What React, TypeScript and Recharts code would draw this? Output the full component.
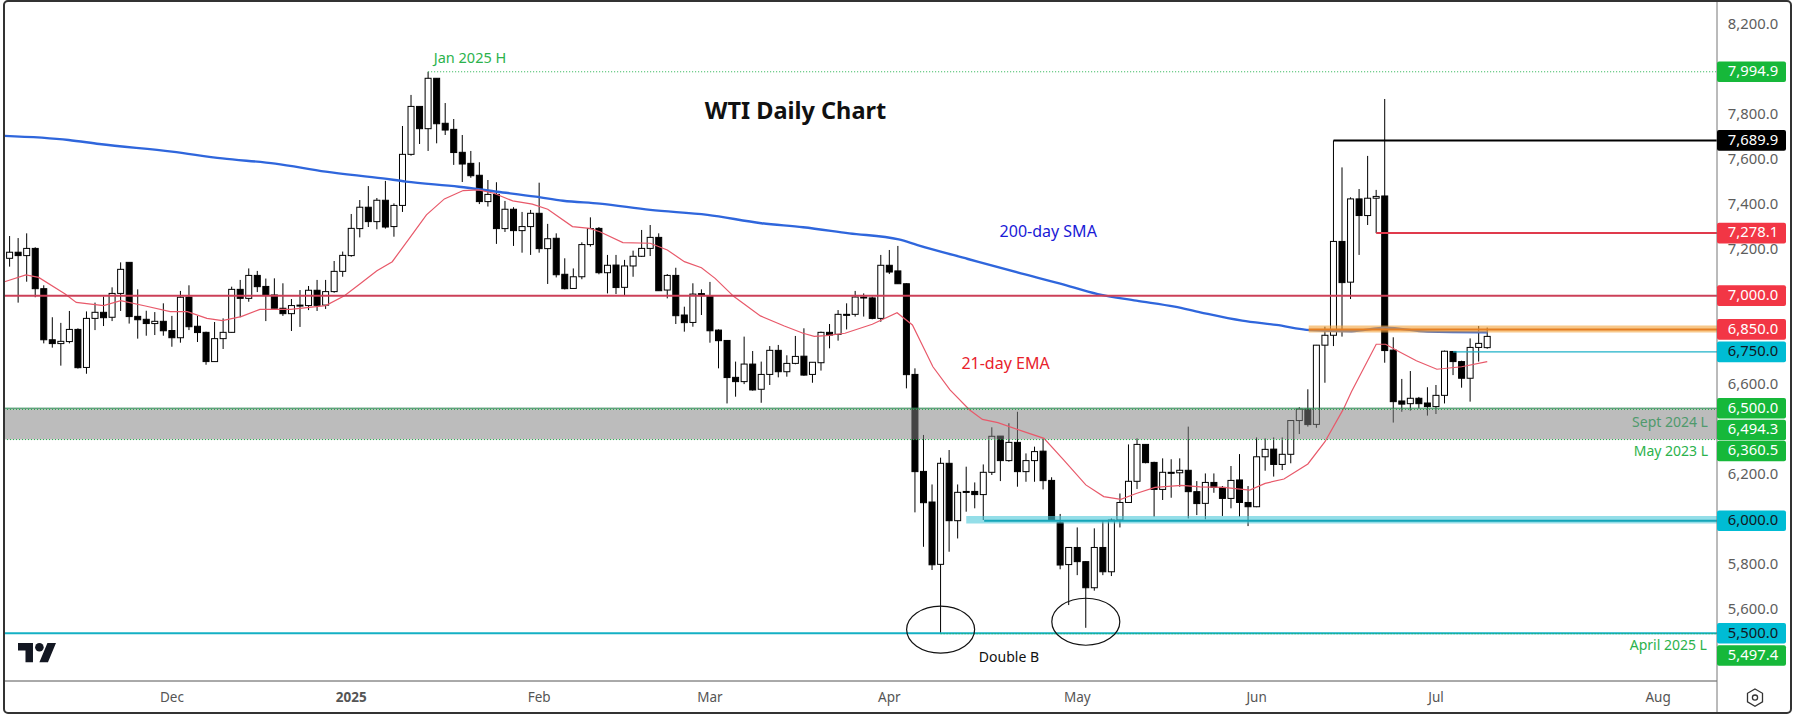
import {
  Bar,
  ComposedChart,
  Line,
  ReferenceArea,
  ReferenceDot,
  ReferenceLine,
  XAxis,
  YAxis,
} from "recharts";

// daily candles, bar 0 is late Oct 2024
const opens = [
  7166, 7193, 7178, 7210, 7031, 6804, 6787, 6796, 6850, 6681,
  6899, 6926, 6904, 7010, 7148, 6908, 6895, 6876, 6886, 6845,
  6813, 6994, 6864, 6837, 6707, 6809, 6837, 7028, 6988, 7090,
  7041, 7003, 6944, 6920, 6956, 6956, 7024, 6958, 7018, 7108,
  7178, 7298, 7393, 7329, 7424, 7307, 7401, 7628, 7841, 7742,
  7966, 7766, 7739, 7637, 7588, 7535, 7418, 7450, 7298, 7384,
  7289, 7307, 7366, 7209, 7255, 7095, 7032, 7084, 7227, 7299,
  7102, 7136, 7037, 7132, 7175, 7210, 7259, 7025, 7090, 6914,
  6881, 7009, 6999, 6847, 6801, 6637, 6618, 6696, 6584, 6650,
  6757, 6662, 6699, 6731, 6650, 6702, 6837, 6828, 6917, 6917,
  6994, 6990, 6899, 7135, 7110, 7053, 6650, 6219, 6083, 5806,
  6255, 6000, 6130, 6130, 6116, 6215, 6376, 6267, 6348, 6218,
  6267, 6309, 6179, 5991, 5805, 5881, 5818, 5702, 5881, 5773,
  6003, 6081, 6175, 6339, 6259, 6139, 6215, 6213, 6224, 6129,
  6077, 6170, 6148, 6099, 6181, 6081, 6062, 6284, 6318, 6250,
  6295, 6445, 6496, 6428, 6780, 6824, 7241, 7060, 7430, 7356,
  7433, 7443, 6758, 6532, 6520, 6544, 6523, 6507, 6557, 6752,
  6707, 6633, 6770, 6769,
];
const highs = [
  7265, 7256, 7277, 7215, 7046, 6904, 6879, 6932, 6855, 6930,
  6969, 6996, 7037, 7148, 7148, 7028, 6933, 6927, 6966, 6910,
  7021, 7046, 6910, 6840, 6883, 6899, 7040, 7070, 7121, 7110,
  7076, 7077, 7055, 6985, 7025, 7043, 7070, 7070, 7154, 7196,
  7363, 7425, 7487, 7434, 7510, 7410, 7754, 7892, 7841, 7995,
  7966, 7856, 7785, 7714, 7643, 7593, 7514, 7504, 7421, 7393,
  7372, 7381, 7502, 7319, 7277, 7166, 7121, 7237, 7348, 7305,
  7181, 7181, 7159, 7200, 7292, 7314, 7277, 7096, 7124, 6951,
  7055, 7028, 7061, 6850, 6802, 6707, 6818, 6754, 6707, 6776,
  6781, 6735, 6821, 6855, 6704, 6840, 6874, 6936, 6966, 7021,
  7010, 6996, 7181, 7203, 7221, 7055, 6677, 6381, 6161, 6280,
  6314, 6161, 6240, 6170, 6250, 6415, 6376, 6433, 6484, 6299,
  6329, 6366, 6193, 6030, 5881, 5970, 5820, 5966, 6003, 6010,
  6121, 6339, 6366, 6339, 6262, 6277, 6273, 6277, 6418, 6176,
  6210, 6210, 6154, 6243, 6296, 6154, 6370, 6366, 6370, 6370,
  6447, 6504, 6584, 6781, 6862, 7690, 7570, 7437, 7474, 7621,
  7470, 7874, 6815, 6630, 6665, 6550, 6593, 6603, 6756, 6752,
  6711, 6810, 6865, 6858,
];
const lows = [
  7129, 6969, 7062, 6993, 6788, 6769, 6689, 6788, 6676, 6653,
  6847, 6865, 6887, 6932, 6876, 6809, 6822, 6825, 6822, 6773,
  6791, 6847, 6794, 6693, 6707, 6763, 6836, 6904, 6973, 7016,
  6887, 6944, 6910, 6843, 6861, 6936, 6932, 6941, 7013, 7084,
  7173, 7259, 7305, 7295, 7298, 7262, 7372, 7622, 7674, 7643,
  7677, 7714, 7581, 7505, 7524, 7407, 7396, 7230, 7283, 7221,
  7191, 7181, 7191, 7052, 7081, 7028, 7030, 7073, 7218, 7095,
  7010, 7007, 7003, 7084, 7172, 7176, 7022, 6988, 6874, 6840,
  6862, 6914, 6791, 6677, 6521, 6551, 6607, 6578, 6524, 6603,
  6637, 6640, 6695, 6644, 6613, 6667, 6766, 6800, 6850, 6907,
  6907, 6895, 6884, 7096, 7052, 6588, 6037, 5884, 5781, 5497,
  5862, 5921, 6040, 6055, 6003, 6203, 6176, 6262, 6151, 6173,
  6173, 6139, 6003, 5784, 5625, 5758, 5524, 5689, 5758, 5754,
  5970, 6080, 6141, 6255, 6018, 6092, 6102, 6151, 6010, 6025,
  6006, 6124, 6021, 6055, 6018, 5976, 6060, 6222, 6196, 6225,
  6255, 6385, 6418, 6413, 6613, 6776, 6818, 6985, 7181, 7314,
  7278, 6702, 6436, 6484, 6489, 6499, 6467, 6474, 6521, 6647,
  6591, 6529, 6707, 6764,
];
const closes = [
  7193, 7178, 7210, 7031, 6804, 6787, 6797, 6850, 6680, 6899,
  6926, 6902, 7010, 7117, 6907, 6893, 6876, 6886, 6844, 6813,
  6993, 6862, 6836, 6707, 6809, 6837, 7028, 6988, 7090, 7040,
  7003, 6944, 6920, 6956, 6958, 7024, 6957, 7018, 7108, 7179,
  7299, 7393, 7329, 7424, 7305, 7401, 7628, 7841, 7742, 7966,
  7764, 7736, 7636, 7585, 7533, 7418, 7450, 7298, 7384, 7289,
  7307, 7366, 7209, 7253, 7093, 7031, 7084, 7227, 7298, 7102,
  7135, 7036, 7132, 7175, 7210, 7259, 7022, 7090, 6911, 6880,
  7007, 7000, 6844, 6800, 6636, 6618, 6696, 6581, 6650, 6757,
  6662, 6699, 6730, 6647, 6704, 6837, 6825, 6917, 6916, 6994,
  6992, 6899, 7135, 7105, 7053, 6649, 6218, 6080, 5804, 6255,
  6000, 6126, 6126, 6116, 6215, 6375, 6267, 6348, 6218, 6267,
  6307, 6178, 6003, 5803, 5881, 5818, 5702, 5881, 5773, 6003,
  6081, 6175, 6339, 6258, 6139, 6215, 6213, 6224, 6129, 6076,
  6170, 6148, 6099, 6179, 6081, 6062, 6284, 6317, 6250, 6295,
  6445, 6496, 6427, 6780, 6824, 7241, 7058, 7430, 7356, 7433,
  7441, 6756, 6529, 6518, 6544, 6520, 6507, 6557, 6753, 6707,
  6633, 6770, 6788, 6819,
];

// moving averages at the bends, bar number + value
const smaBars = [
  -0.6, 6.9, 10.5, 19, 24.9, 31.1, 37, 43.7, 46.4, 52.6, 57.1, 61.6, 64.8, 69.1, 75, 81.7,
  88, 92.9, 98.3, 104.1, 106.3, 112.2, 118.4, 122.9, 127.4, 131.9, 136.4, 139.4, 144.3,
  148.3, 152.3, 157.1, 161.1, 166, 173,
];
const smaValues = [
  7710, 7692, 7674, 7640, 7610, 7587, 7551, 7521, 7507, 7484, 7462, 7440, 7422, 7409, 7381, 7359,
  7322, 7304, 7277, 7250, 7225, 7163, 7099, 7055, 7007, 6978, 6951, 6926, 6889,
  6870, 6847, 6842, 6858, 6840, 6837,
];
const emaBars = [
  -0.6, 1.9, 3.4, 6.5, 7.8, 11, 13, 15.9, 18.8, 20.8, 23.1, 24.9, 27.1, 29.3, 32.9, 37, 39.2,
  41, 43, 44.8, 46.8, 48.8, 50.9, 53.1, 54.9, 56.7, 58.9, 61.2, 63, 65.9, 67.9, 69.1,
  71.8, 75, 77, 79, 81, 82.6, 84.8, 87.9, 90.7, 92.9, 94.2, 95.6, 97.8, 101, 103.9, 105.7,
  108.1, 110.1, 112.4, 113.9, 115.7, 118.4, 121.1, 123.4, 126, 128.1, 130.1, 131.9, 134.1,
  137.2, 139.4, 142.1, 145.2, 147, 149.2, 152, 154, 156.2, 157.1, 160, 161.1, 162.7, 164.7,
  167.1, 170, 173,
];
const emaValues = [
  7062, 7092, 7081, 7007, 6970, 6956, 6978, 6954, 6929, 6929, 6899, 6889, 6907, 6939, 6939, 6956, 7000,
  7052, 7111, 7151, 7255, 7359, 7430, 7467, 7470, 7455, 7421, 7407, 7384, 7307, 7299, 7284,
  7236, 7233, 7203, 7151, 7124, 7077, 6996, 6910, 6865, 6833, 6819, 6822, 6833, 6873, 6924, 6870,
  6684, 6581, 6492, 6450, 6436, 6400, 6366, 6270, 6159, 6107, 6095, 6121, 6148,
  6157, 6150, 6148, 6136, 6166, 6185, 6252, 6351, 6499, 6573, 6784, 6784, 6751, 6711,
  6673, 6684, 6707,
];

const priceTicks = [8200, 7800, 7600, 7400, 7200, 6600, 6200, 5800, 5600];
const tagValues = [7994.9, 7689.9, 7278.1, 7000, 6850, 6750, 6500, 6494.3, 6360.5, 6000, 5500, 5497.4];
const monthBars = [19, 40, 62, 82, 103, 125, 146, 167, 193];
const monthLabels = ["Dec", "2025", "Feb", "Mar", "Apr", "May", "Jun", "Jul", "Aug"];

const noteTexts = ["Jan 2025 H", "WTI Daily Chart", "200-day SMA", "21-day EMA", "Double B", "Sept 2024 L", "May 2023 L", "April 2025 L"];
const noteBars = [53.9, 92, 121.6, 116.6, 117, 194.4, 194.5, 194.2];
const notePrices = [8049, 7812, 7279, 6692, 5390, 6431, 6302, 5440];

const candles = opens.map((open, i) => ({
  bar: i,
  open,
  high: highs[i],
  low: lows[i],
  close: closes[i],
}));
const sma = smaBars.map((bar, i) => ({ bar, sma: smaValues[i] }));
const ema = emaBars.map((bar, i) => ({ bar, ema: emaValues[i] }));

const FONT = "'Noto Sans', sans-serif";
const X_MIN = -0.66;
const X_MAX = 199.9;
const BODY_W = 6;
const GREEN = "#22b14c";
const RED = "#f23645";
const CYAN = "#00bcd4";

const NOTE_STYLES = [
  { fill: "#2bb24c", fontSize: 14.5, fontWeight: 400 },
  { fill: "#111", fontSize: 23.5, fontWeight: 700 },
  { fill: "#1a1ad6", fontSize: 16, fontWeight: 400 },
  { fill: "#e8222c", fontSize: 16, fontWeight: 400 },
  { fill: "#111", fontSize: 14, fontWeight: 400 },
  { fill: "#4f9a6c", fontSize: 14, fontWeight: 400 },
  { fill: "#2bb24c", fontSize: 14, fontWeight: 400 },
  { fill: "#2bb24c", fontSize: 14, fontWeight: 400 },
];

// price tags on the axis, some pushed down like TradingView does when they collide
const TAG_STYLES: Record<number, { bg: string; fg: string; shift?: number }> = {
  7994.9: { bg: "#16b83a", fg: "#fff" },
  7689.9: { bg: "#000", fg: "#fff" },
  7278.1: { bg: RED, fg: "#fff" },
  7000: { bg: RED, fg: "#fff" },
  6850: { bg: RED, fg: "#fff" },
  6750: { bg: CYAN, fg: "#131722" },
  6500: { bg: "#16b83a", fg: "#fff" },
  6494.3: { bg: "#16b83a", fg: "#fff", shift: 20.5 },
  6360.5: { bg: "#16b83a", fg: "#fff", shift: 11.5 },
  6000: { bg: CYAN, fg: "#131722" },
  5500: { bg: CYAN, fg: "#131722" },
  5497.4: { bg: "#16b83a", fg: "#fff", shift: 21.7 },
};

function PriceTick({ x, y, payload }: any) {
  const tag = TAG_STYLES[payload.value];
  const label = payload.value.toLocaleString("en-US", {
    minimumFractionDigits: 1,
    maximumFractionDigits: 1,
  });
  if (!tag) {
    return (
      <text x={x + 36} y={y - 0.4} textAnchor="middle" dominantBaseline="middle" fill="#5d5d5d" fontSize={14.8} fontFamily={FONT}>
        {label}
      </text>
    );
  }
  const cy = y + (tag.shift ?? 0);
  return (
    <g>
      <rect x={x} y={cy - 10.3} width={69} height={20.6} rx={2} fill={tag.bg} />
      <text x={x + 36} y={cy + 0.4} textAnchor="middle" dominantBaseline="middle" fill={tag.fg} fontSize={14.8} fontFamily={FONT}>
        {label}
      </text>
    </g>
  );
}

function MonthTick({ x, y, payload }: any) {
  const label = monthLabels[monthBars.indexOf(payload.value)];
  return (
    <text x={x} y={y + 1} textAnchor="middle" dominantBaseline="middle" fill="#555" fontSize={13.5} fontWeight={label === "2025" ? 700 : 400} fontFamily={FONT}>
      {label}
    </text>
  );
}

// the bar comes in as the low-high range, open and close are placed inside it
function Candle({ x, y, width, height, payload }: any) {
  const { open, high, low, close } = payload;
  const perUnit = height / (high - low);
  const yOpen = y + (high - open) * perUnit;
  const yClose = y + (high - close) * perUnit;
  const top = Math.min(yOpen, yClose);
  const bodyH = Math.max(Math.abs(yOpen - yClose), 1);
  const mid = x + width / 2;
  const up = close >= open;
  return (
    <g>
      <line x1={mid} x2={mid} y1={y} y2={y + height} stroke="#000" strokeWidth={1} />
      <rect x={mid - BODY_W / 2} y={top} width={BODY_W} height={bodyH} fill={up ? "#fff" : "#000"} stroke="#000" strokeWidth={1} />
    </g>
  );
}

function Ellipse({ cx, cy }: any) {
  return <ellipse cx={cx} cy={cy} rx={34} ry={23.5} fill="none" stroke="#111" strokeWidth={1.2} />;
}

function NoteText({ cx, cy, text, style }: any) {
  return (
    <text x={cx} y={cy} textAnchor="middle" dominantBaseline="middle" fontFamily={FONT} {...style}>
      {text}
    </text>
  );
}

// level line starting at a given bar and running to the price axis
function level(price: number, fromBar: number, stroke: string, width: number, dash?: string) {
  return (
    <ReferenceLine
      key={`${price}-${fromBar}`}
      segment={[
        { x: fromBar, y: price },
        { x: X_MAX, y: price },
      ]}
      stroke={stroke}
      strokeWidth={width}
      strokeDasharray={dash}
      zIndex={450}
    />
  );
}

export default function App() {
  return (
    <div style={{ position: "absolute", left: 0, top: 0, width: 1794, height: 715, background: "#fff", overflow: "hidden" }}>
      <ComposedChart width={1794} height={715} data={candles} margin={{ top: 2, right: 0, bottom: 4, left: 4 }}>
        <XAxis
          dataKey="bar"
          type="number"
          domain={[X_MIN, X_MAX]}
          allowDataOverflow
          ticks={monthBars}
          interval={0}
          tick={<MonthTick />}
          tickLine={false}
          tickSize={0}
          tickMargin={16}
          height={30}
          stroke="#555"
        />
        <YAxis
          orientation="right"
          type="number"
          domain={[5287.6, 8305]}
          allowDataOverflow
          ticks={[...priceTicks, ...tagValues]}
          interval={0}
          tick={<PriceTick />}
          tickLine={false}
          tickSize={0}
          tickMargin={0}
          width={77}
          stroke="#777"
        />

        <Bar dataKey={(d: any) => [d.low, d.high]} barSize={6} shape={<Candle />} isAnimationActive={false} />

        <ReferenceArea x1={X_MIN} x2={X_MAX} y1={6360.5} y2={6500} fill="#808080" fillOpacity={0.53} stroke="none" zIndex={350} />

        <Line data={sma} dataKey="sma" type="monotone" stroke="#2f66dc" strokeWidth={2.4} dot={false} isAnimationActive={false} />
        <Line data={ema} dataKey="ema" type="linear" stroke="#e8596a" strokeWidth={1.2} dot={false} isAnimationActive={false} />

        <ReferenceArea x1={152.1} x2={X_MAX} y1={6836} y2={6867} fill="#f2a33c" fillOpacity={0.6} stroke="none" zIndex={440} />
        <ReferenceArea x1={112} x2={X_MAX} y1={5987} y2={6021} fill="#4cc8d8" fillOpacity={0.6} stroke="none" zIndex={440} />

        {level(7994.9, 49, GREEN, 1, "1 2")}
        {level(7689.9, 155, "#000", 2)}
        {level(7278.1, 160, "#e03a4c", 2)}
        {level(7000, X_MIN, "#cc4058", 2)}
        {level(6850, 152.1, "#e57e22", 2)}
        {level(6750, 169, "#20b2c8", 1.2)}
        {level(6500, X_MIN, "#2e8b57", 1)}
        {level(6494.3, X_MIN, GREEN, 1, "1 2")}
        {level(6360.5, X_MIN, GREEN, 1, "1 2")}
        {level(6000, 114.1, "#14a5b8", 2)}
        {level(5500, X_MIN, "#14b0c4", 2)}
        {level(5497.4, 109, GREEN, 1, "1 2")}

        <ReferenceDot x={109} y={5516} r={0} shape={<Ellipse />} zIndex={500} />
        <ReferenceDot x={126} y={5551} r={0} shape={<Ellipse />} zIndex={500} />

        {noteTexts.map((text, i) => (
          <ReferenceDot
            key={text}
            x={noteBars[i]}
            y={notePrices[i]}
            r={0}
            zIndex={500}
            shape={<NoteText text={text} style={NOTE_STYLES[i]} />}
          />
        ))}
      </ComposedChart>

      {/* logo, settings icon and outer frame sit on top of the chart */}
      <svg width={1794} height={715} style={{ position: "absolute", left: 0, top: 0, pointerEvents: "none" }}>
        <g transform="translate(18 638.7) scale(1.07)" fill="#131722">
          <path d="M14 22H7V11H0V4h14v18zM28 22h-8l7.5-18h8L28 22z" />
          <circle cx="20" cy="8" r="4" />
        </g>
        <line x1={1717} x2={1717} y1={681} y2={713} stroke="#777" strokeWidth={1} />
        <path d="M1755 689l7.5 4.3v8.6l-7.5 4.3l-7.5-4.3v-8.6z" fill="none" stroke="#333" strokeWidth={1.3} />
        <circle cx={1755} cy={697.6} r={2.6} fill="none" stroke="#333" strokeWidth={1.3} />
        <rect x={4} y={1} width={1787} height={712} rx={4} fill="none" stroke="#333" strokeWidth={2} />
      </svg>
    </div>
  );
}
